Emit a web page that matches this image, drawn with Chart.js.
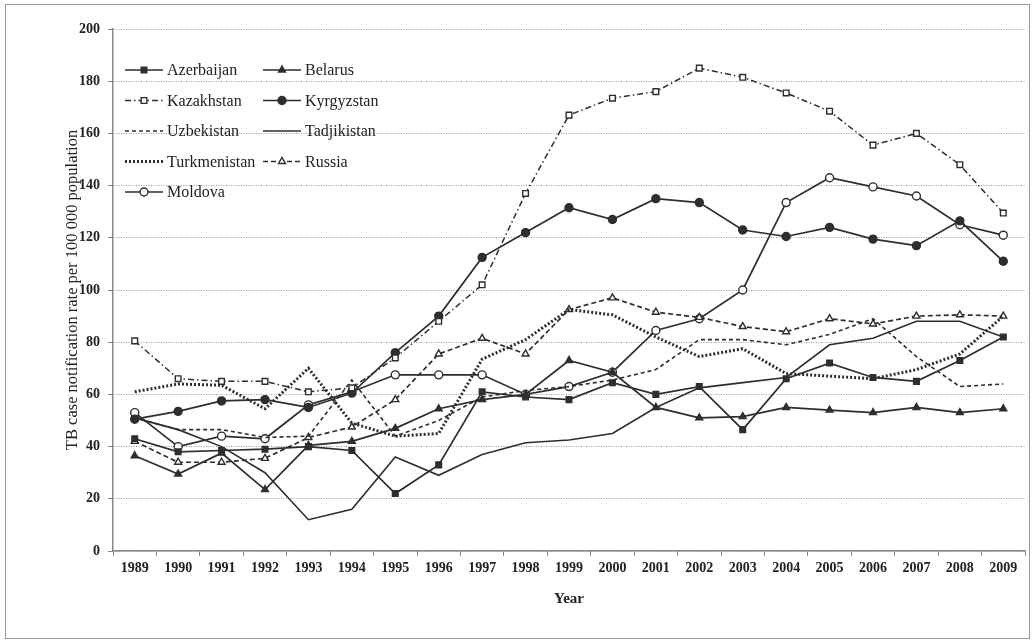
<!DOCTYPE html>
<html>
<head>
<meta charset="utf-8">
<script src="https://cdn.jsdelivr.net/npm/chart.js@4.4.0/dist/chart.umd.min.js"></script>
<style>
    html, body { margin: 0; padding: 0; background: #fff; }
</style>
</head>
<body>
<canvas id="grafico" width="1035" height="643"></canvas>
<script>
// Anos (eixo X)
const anos = ['1989', '1990', '1991', '1992', '1993', '1994', '1995', '1996', '1997', '1998', '1999',
              '2000', '2001', '2002', '2003', '2004', '2005', '2006', '2007', '2008', '2009'];

// Taxas de notificação por país
const azerbaijan   = [43, 38, 38.5, 39, 40, 38.5, 22, 33, 61, 59, 58, 64.5, 60, 63, 46.5, 66, 72, 66.5, 65, 73, 82];
const belarus      = [36.5, 29.5, 37.5, 23.5, 40.5, 42, 47, 54.5, 58, 60, 73, 68.5, 55, 51, 51.5, 55, 54, 53, 55, 53, 54.5];
const kazakhstan   = [80.5, 66, 65, 65, 61, 62.5, 74, 88, 102, 137, 167, 173.5, 176, 185, 181.5, 175.5, 168.5, 155.5, 160, 148, 129.5];
const kyrgyzstan   = [50.5, 53.5, 57.5, 58, 55, 60.5, 76, 90, 112.5, 122, 131.5, 127, 135, 133.5, 123, 120.5, 124, 119.5, 117, 126.5, 111];
const uzbekistan   = [51, 46.5, 46.5, 43.5, 44, 65.5, 44, 50, 59, 61.5, 63, 65.5, 69.5, 81, 81, 79, 83, 89, 74.5, 63, 64];
const tadjikistan  = [51, 46.5, 40, 30, 12, 16, 36, 29, 37, 41.5, 42.5, 45, 55, 62.5, 64.5, 66.5, 79, 81.5, 88, 88, 82];
const turkmenistan = [61, 64, 63.5, 54.5, 70, 49, 44, 45, 73.5, 81, 92.5, 90.5, 82, 74.5, 77.5, 68, 67, 66, 69.5, 75.5, 90];
const russia       = [42, 34, 34, 35.5, 43.5, 47.5, 58, 75.5, 81.5, 75.5, 92.5, 97, 91.5, 89.5, 86, 84, 89, 87, 90, 90.5, 90];
const moldova      = [53, 40, 44, 43, 56, 61, 67.5, 67.5, 67.5, 60, 63, 68.5, 84.5, 89, 100, 133.5, 143, 139.5, 136, 125, 121];

const cor = '#2e2e2e';
const fonte = '"Liberation Serif", "Times New Roman", serif';

function serie(label, data, dash, estilo, cheio, largura) {
    return {
        label: label,
        data: data,
        borderColor: cor,
        borderWidth: largura || 1.7,
        borderDash: dash,
        pointStyle: estilo || 'circle',
        pointRadius: estilo ? 4 : 0,
        pointBackgroundColor: cheio ? cor : '#fff',
        pointBorderColor: cor,
        pointBorderWidth: 1.4,
        tension: 0,
        fill: false
    };
}

// desenha o marcador da legenda
function marcador(ctx, ds, x, y) {
    if (!ds.pointRadius) return;
    const r = ds.pointRadius;
    ctx.fillStyle = ds.pointBackgroundColor;
    ctx.strokeStyle = ds.pointBorderColor;
    ctx.lineWidth = ds.pointBorderWidth;
    ctx.beginPath();
    if (ds.pointStyle === 'rect') {
        const s = r / Math.SQRT2;
        ctx.rect(x - s, y - s, 2 * s, 2 * s);
    } else if (ds.pointStyle === 'triangle') {
        ctx.moveTo(x, y - r);
        ctx.lineTo(x + r * 0.866, y + r * 0.5);
        ctx.lineTo(x - r * 0.866, y + r * 0.5);
        ctx.closePath();
    } else {
        ctx.arc(x, y, r, 0, Math.PI * 2);
    }
    ctx.fill();
    ctx.stroke();
}

// fundo branco e moldura
const moldura = {
    id: 'moldura',
    beforeDraw(chart) {
        const ctx = chart.ctx;
        ctx.save();
        ctx.fillStyle = '#fff';
        ctx.fillRect(0, 0, chart.width, chart.height);
        ctx.strokeStyle = '#999';
        ctx.lineWidth = 1;
        ctx.strokeRect(5.5, 4.5, 1024, 634);
        ctx.restore();
    }
};

// legenda em duas colunas dentro da área do gráfico
const legenda = {
    id: 'legenda',
    afterDatasetsDraw(chart) {
        const ctx = chart.ctx;
        chart.data.datasets.forEach((ds, i) => {
            const x = (i % 2 === 0) ? 125 : 263;
            const y = 70 + Math.floor(i / 2) * 30.5;
            ctx.save();
            ctx.strokeStyle = ds.borderColor;
            ctx.lineWidth = ds.borderWidth;
            ctx.setLineDash(ds.borderDash || []);
            ctx.beginPath();
            ctx.moveTo(x, y);
            ctx.lineTo(x + 38, y);
            ctx.stroke();
            ctx.setLineDash([]);
            marcador(ctx, ds, x + 19, y);
            ctx.fillStyle = '#222';
            ctx.font = '16px ' + fonte;
            ctx.textBaseline = 'middle';
            ctx.fillText(ds.label, x + 42, y + 1);
            ctx.restore();
        });
    }
};

const ctx = document.getElementById('grafico').getContext('2d');
const chart = new Chart(ctx, {
    type: 'line',
    data: {
        labels: anos,
        datasets: [
            serie('Azerbaijan', azerbaijan, [], 'rect', true),
            serie('Belarus', belarus, [], 'triangle', true),
            serie('Kazakhstan', kazakhstan, [6, 3, 1.5, 3], 'rect', false, 1.5),
            serie('Kyrgyzstan', kyrgyzstan, [], 'circle', true),
            serie('Uzbekistan', uzbekistan, [4, 3], null, false, 1.6),
            serie('Tadjikistan', tadjikistan, [], null, false, 1.6),
            serie('Turkmenistan', turkmenistan, [2, 2], null, false, 3),
            serie('Russia', russia, [5, 3], 'triangle', false, 1.7),
            serie('Moldova', moldova, [], 'circle', false)
        ]
    },
    options: {
        responsive: false,
        animation: false,
        devicePixelRatio: 1,
        layout: { padding: { left: 0, right: 10, top: 29, bottom: 8 } },
        plugins: {
            legend: { display: false },
            tooltip: { enabled: false }
        },
        scales: {
            x: {
                offset: true,
                grid: { display: true, drawOnChartArea: false, offset: true, tickLength: 5, color: '#888', tickColor: '#888' },
                border: { color: '#888', width: 1.5 },
                ticks: {
                    color: '#222',
                    font: { family: fonte, size: 14, weight: 'bold' },
                    padding: 4,
                    maxRotation: 0,
                    autoSkip: false
                },
                title: {
                    display: true,
                    text: 'Year',
                    color: '#222',
                    font: { family: fonte, size: 15, weight: 'bold' },
                    padding: { top: 0, bottom: 27 }
                },
                afterFit: s => { s.height = 84; }
            },
            y: {
                min: 0,
                max: 200,
                ticks: {
                    stepSize: 20,
                    color: '#222',
                    font: { family: fonte, size: 14, weight: 'bold' },
                    padding: 8
                },
                grid: { color: '#999', lineWidth: 1, tickLength: 5, tickColor: '#888', tickBorderDash: [] },
                border: { color: '#888', width: 1.5, dash: [1, 1.5] },
                title: {
                    display: true,
                    text: 'TB case notification rate per 100 000 population',
                    color: '#222',
                    font: { family: fonte, size: 16.5 },
                    padding: { top: 63, bottom: 0 }
                },
                afterFit: s => { s.width = 113; }
            }
        }
    },
    plugins: [moldura, legenda]
});
</script>
</body>
</html>
